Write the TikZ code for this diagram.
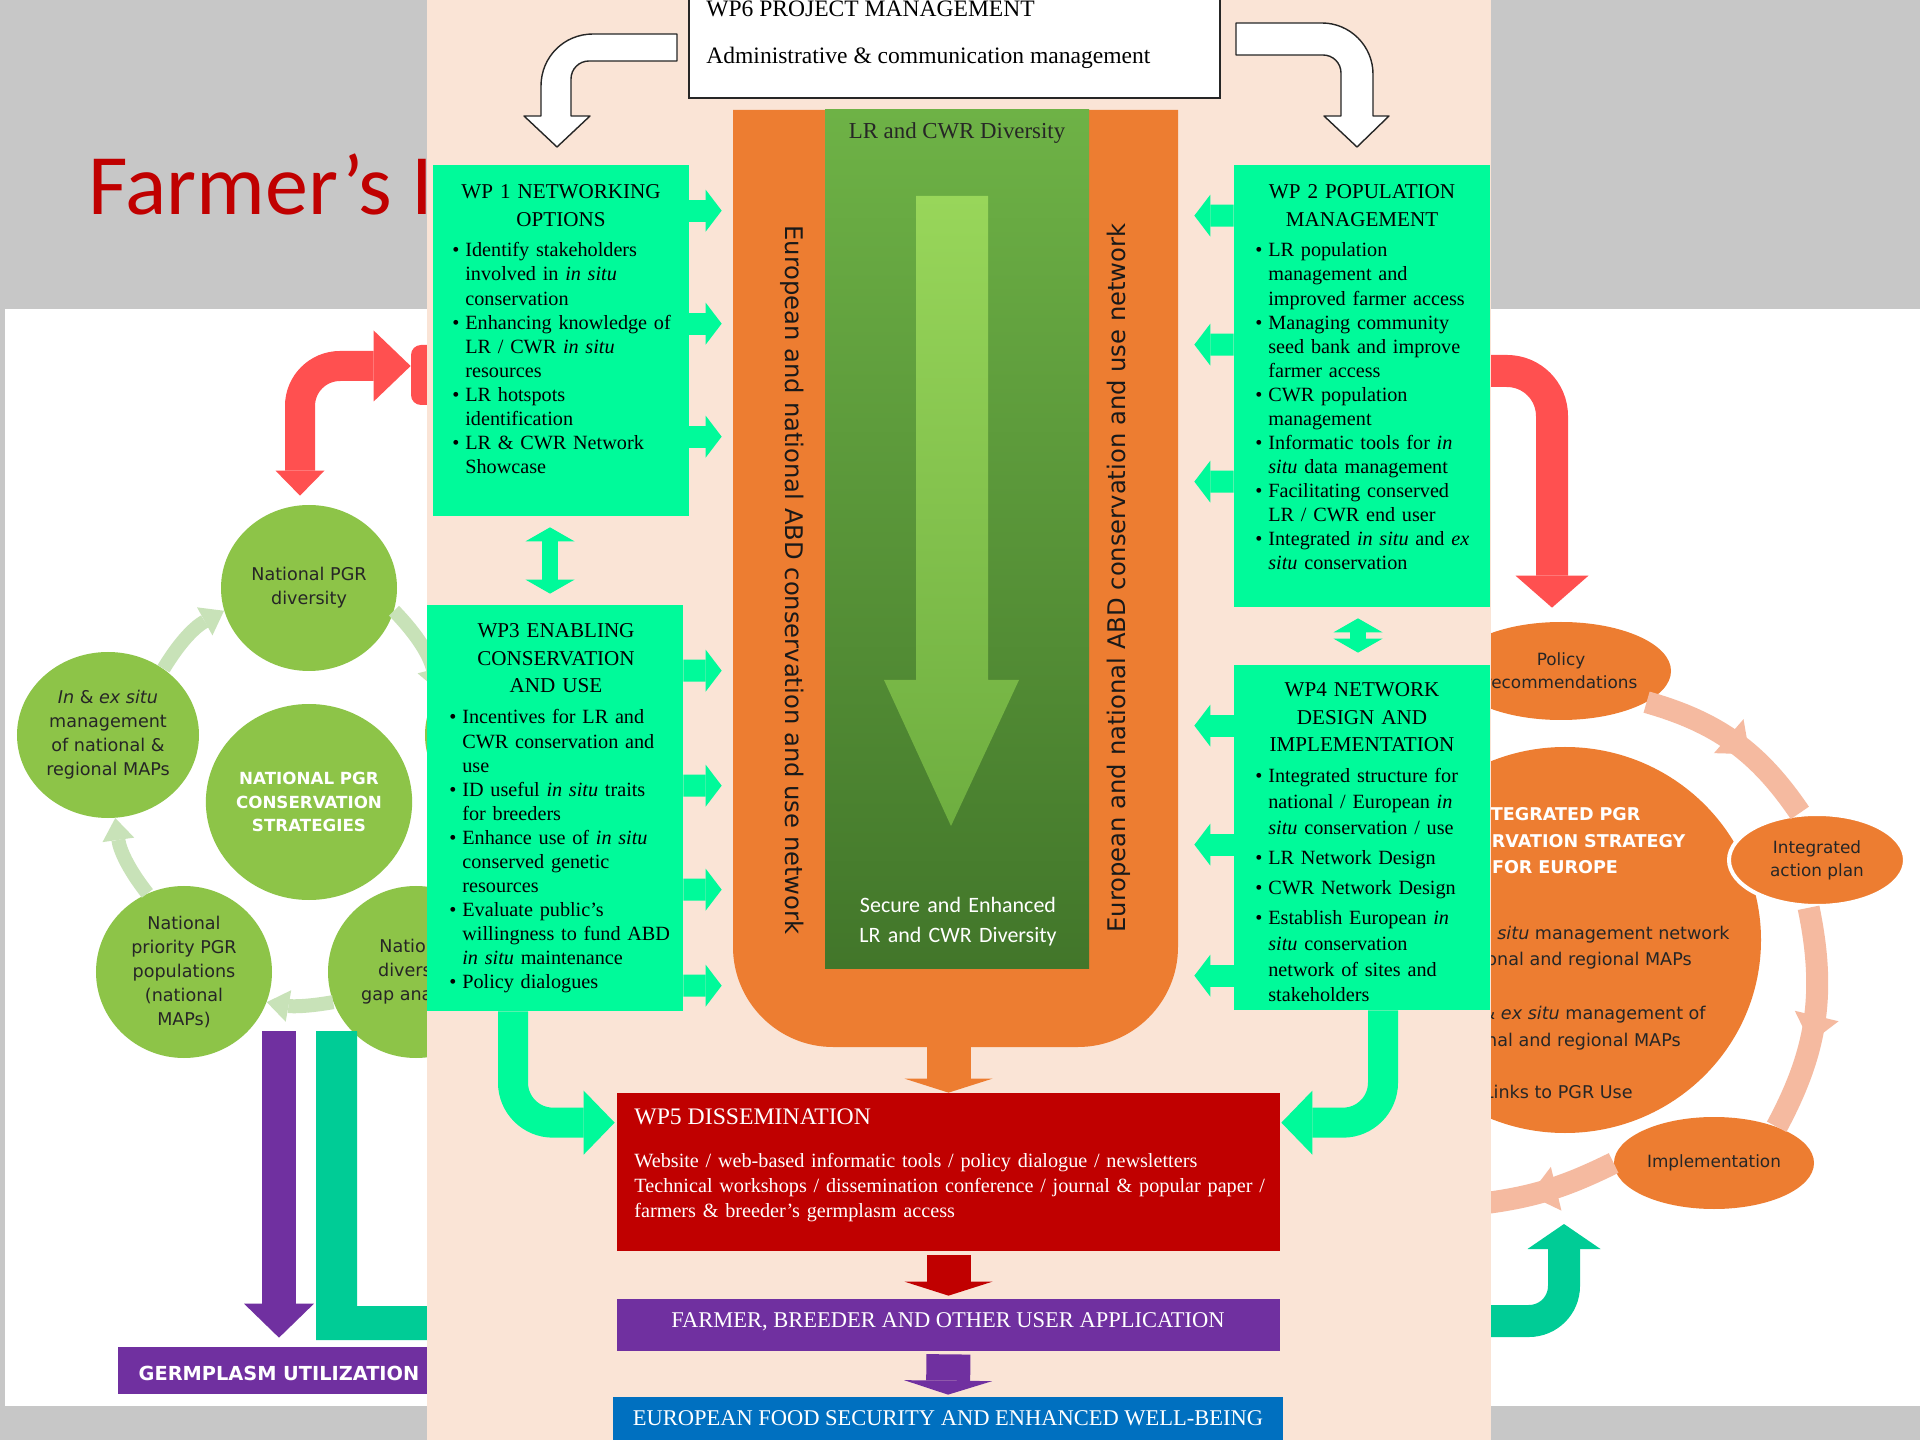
\documentclass[tikz,border=0pt]{standalone}
\usepackage{fontspec}
\setmainfont{Liberation Serif}
\newfontfamily\djsans{DejaVu Sans}
\newfontfamily\calsans{Carlito}
\usetikzlibrary{positioning}
\usetikzlibrary{calc}
\usetikzlibrary{arrows.meta}
\usetikzlibrary{fit}
\usetikzlibrary{shapes.geometric}
\usetikzlibrary{decorations.markings}
\definecolor{slidegray}{RGB}{199,199,199}
\definecolor{titlered}{RGB}{192,0,0}
\definecolor{peach}{RGB}{250,228,214}
\definecolor{wpgreen}{RGB}{0,250,154}
\definecolor{abdorange}{RGB}{237,125,49}
\definecolor{wpred}{RGB}{192,0,0}
\definecolor{wppurple}{RGB}{112,48,160}
\definecolor{wpblue}{RGB}{0,112,192}
\definecolor{colhi}{RGB}{110,178,70}
\definecolor{collo}{RGB}{66,118,42}
\definecolor{arrhi}{RGB}{152,214,90}
\definecolor{arrlo}{RGB}{110,174,64}
\definecolor{leafgreen}{RGB}{141,196,72}
\definecolor{paleleaf}{RGB}{200,226,184}
\definecolor{coral}{RGB}{255,80,80}
\definecolor{jade}{RGB}{0,204,150}
\definecolor{salmon}{RGB}{245,186,160}

\newcommand{\wpit}[1]{\hangindent=7.4pt\hangafter=1\noindent\makebox[7.4pt][l]{\textbullet}#1\par}

\tikzset{
  wpbox/.style={fill=wpgreen, inner sep=0pt},
  wptitle/.style={anchor=base, inner sep=0pt, text width=60mm, align=center, font=\fontsize{12}{15.4}\selectfont},
  wplist/.style={anchor=base west, inner sep=0pt, text width=60mm, align=left, font=\fontsize{11.5}{13.66}\selectfont},
  bartext/.style={anchor=base, inner sep=0pt, text=white, font=\fontsize{12.8}{15}\selectfont},
  sidearr/.style={draw=wpgreen, line width=4.4mm, -{Triangle[width=8.4mm,length=3.2mm,line width=0pt]}},
  linkarr/.style={draw=wpgreen, line width=3.2mm, {Triangle[width=9.8mm,length=2.8mm,line width=0pt]}-{Triangle[width=9.8mm,length=2.8mm,line width=0pt]}},
  bendarr/.style={draw=wpgreen, line width=6mm, rounded corners=8mm, -{Triangle[width=12.8mm,length=6.2mm,line width=0pt]}},
  dnarr/.style={line width=8.8mm, -{Triangle[width=17.6mm,length=2.8mm,line width=0pt]}},
  mgmtarr/.style={fill=white, draw=black!85, line width=0.8pt, line join=round},
  abdtext/.style={inner sep=0pt, text=black!90, font=\djsans\fontsize{13.8}{16}\selectfont},
  leafcirc/.style={ellipse, fill=leafgreen, inner sep=0pt, align=center, text=black!85, font=\djsans\fontsize{10}{13.6}\selectfont},
  palearr/.style={draw=paleleaf, line width=2.8mm, -{Triangle[width=6.4mm,length=4.4mm,line width=0pt]}},
  orangeell/.style={ellipse, fill=abdorange, inner sep=0pt, align=center, text=black!85, font=\djsans\fontsize{9.6}{13.2}\selectfont},
  ringarr/.style={draw=salmon, line width=4.4mm, postaction={decorate}, decoration={markings, mark=at position 0.6 with {\arrow[salmon]{Triangle[width=9mm,length=5.5mm,line width=0pt]}}}},
  coralarr/.style={draw=coral, line width=6mm, rounded corners=8mm, arrows={Triangle[width=9.8mm,length=5mm,line width=0pt]-Triangle[width=14.2mm,length=7.4mm,line width=0pt]}},
  coralarrR/.style={draw=coral, line width=6.4mm, rounded corners=9mm, -{Triangle[width=14.6mm,length=6.4mm,line width=0pt]}},
  jadearr/.style={draw=jade, line width=6.4mm, rounded corners=7mm, -{Triangle[width=14.6mm,length=5mm,line width=0pt]}},
  purparr/.style={draw=wppurple, line width=6.8mm, -{Triangle[width=14mm,length=6.8mm,line width=0pt]}},
  eurobody/.style={anchor=base east, inner sep=0pt, text=black!85, font=\djsans\fontsize{10}{13}\selectfont}
}

\begin{document}
\begin{tikzpicture}[x=0.2mm, y=-0.2mm]
  \useasboundingbox (0,0) rectangle (1920,1440);
  \fill[slidegray] (0,0) rectangle (1920,1440);
  \fill[white] (5,309) rectangle (1920,1406);

  \begin{scope}
    \clip (0,0) rectangle (427,1440);
    \node[anchor=base west, inner sep=0pt, text=titlered, font=\calsans\fontsize{49}{58}\selectfont] (slidetitle) at (88,215) {Farmer’s I};
    \node[fit={(411,345) (470,405)}, inner sep=0pt, fill=coral, rounded corners=2mm] (redblk) {};
    \node[leafcirc, minimum width=35.2mm, minimum height=33.2mm] (natdiv) at (309,588) {National PGR\\diversity};
    \node[leafcirc, minimum width=36.4mm, minimum height=33.2mm] (inex) at (108,735) {\textit{In} \& \textit{ex situ}\\management\\of national \&\\regional MAPs};
    \node[leafcirc, minimum width=41.2mm, minimum height=39.2mm, text=white, font=\djsans\bfseries\fontsize{9.5}{13.6}\selectfont] (strat) at (309,802) {NATIONAL PGR\\CONSERVATION\\STRATEGIES};
    \node[leafcirc, minimum width=35.2mm, minimum height=34.4mm] (prio) at (184,972) {National\\priority PGR\\populations\\(national\\MAPs)};
    \node[leafcirc, minimum width=35.2mm, minimum height=34.4mm] (gap) at (416,972) {National\\diversity\\gap analysis};
    \node[leafcirc, minimum width=36mm, minimum height=33.2mm] (natR) at (515,735) {};
    \draw[palearr] (inex.50) to[bend left=15] (natdiv.195);
    \draw[palearr] (natdiv.-15) to[bend left=15] (natR.150);
    \draw[palearr] (prio.115) to[bend left=15] (inex.-85);
    \draw[palearr] (gap.200) to[bend left=10] (prio.-20);
    \draw[coralarr] ($(natdiv.north)+(-9,-9)$) |- ($(redblk.west)+(0,-9)$);
    \fill[jade] (316,1031) -- (357,1031) -- (357,1306) -- (440,1306) -- (440,1340) -- (316,1340) -- cycle;
    \node[fit={(118,1347) (440,1394)}, inner sep=0pt, fill=wppurple] (germ) {};
    \node[anchor=base, inner sep=0pt, text=white, font=\djsans\bfseries\fontsize{11}{13}\selectfont] (germt) at (279,1380) {GERMPLASM UTILIZATION};
    \coordinate (purpTop) at (279,1031);
    \draw[purparr] (purpTop) -- ($(germ.north)+(0,-9)$);
  \end{scope}

  \begin{scope}
    \clip (1491,0) rectangle (1920,1440);
    \node[orangeell, minimum width=78.4mm, minimum height=77.2mm] (europe) at (1565,940) {};
    \node[orangeell, minimum width=44mm, minimum height=19.6mm] (policy) at (1561,671) {Policy\\recommendations};
    \node[orangeell, minimum width=35.2mm, minimum height=18.4mm, draw=white, line width=0.8mm] (integ) at (1817,860) {Integrated\\action plan};
    \node[orangeell, minimum width=40mm, minimum height=18.4mm] (implem) at (1714,1163) {Implementation};
    \coordinate (ringL) at (1470,1205);
    \draw[ringarr] (policy.-20) to[bend left=20] (integ.110);
    \draw[ringarr] (integ.-100) to[bend left=20] (implem.30);
    \draw[ringarr] (implem.180) to[bend left=10] (ringL);
    \node[anchor=base, inner sep=0pt, text width=70mm, align=center, text=white, font=\djsans\bfseries\fontsize{10}{15}\selectfont] (eurohead) at (1555,821) {INTEGRATED PGR\\CONSERVATION STRATEGY\\FOR EUROPE};
    \node[eurobody] (eurob1) at (1730,939) {\textit{In situ} management network};
    \node[eurobody] (eurob2) at (1692,965) {of national and regional MAPs};
    \node[eurobody] (eurob3) at (1706,1019) {\textit{In} \& \textit{ex situ} management of};
    \node[eurobody] (eurob4) at (1681,1046) {national and regional MAPs};
    \node[eurobody] (eurob5) at (1633,1098) {Links to PGR Use};
    \coordinate (coralR) at (1470,371);
    \draw[coralarrR] (coralR) -| ($(policy.north)+(-9,-14)$);
    \coordinate (jadeR) at (1470,1321);
    \coordinate (jadeTip) at (1564,1224);
    \draw[jadearr] (jadeR) -| (jadeTip);
  \end{scope}

  \fill[peach] (427,0) rectangle (1491,1440);

  \node[fit={(689,-5) (1220,98)}, inner sep=0pt, fill=white, draw=black!85, line width=0.9pt] (wp6) {};
  \node[anchor=base west, inner sep=0pt, font=\fontsize{13.4}{16}\selectfont] (wp6t) at (706,17) {WP6 PROJECT MANAGEMENT};
  \node[anchor=base west, inner sep=0pt, font=\fontsize{13.4}{16}\selectfont] (wp6s) at (706,64) {Administrative \& communication management};
  \draw[mgmtarr] (677,34) -- (593,34) .. controls (564,34) and (541,57) .. (541,86) -- (541,116) -- (524,116) -- (557,147) -- (590,116) -- (571,116) -- (571,79) .. controls (571,69) and (579,61) .. (589,61) -- (677,61) -- cycle;
  \draw[mgmtarr] (1236,23) -- (1322,23) .. controls (1350,23) and (1373,46) .. (1373,74) -- (1373,116) -- (1389,116) -- (1357,147) -- (1324,116) -- (1341,116) -- (1341,73) .. controls (1341,63) and (1333,55) .. (1323,55) -- (1236,55) -- cycle;

  \fill[abdorange] (733,110) -- (1178,110) -- (1178,947) .. controls (1178,1002) and (1133,1047) .. (1078,1047) -- (833,1047) .. controls (778,1047) and (733,1002) .. (733,947) -- cycle;
  \path node[fit={(733,110) (1178,1047)}, inner sep=0pt] (abd) {};
  \node[fit={(825,110) (1089,968)}, inner sep=0pt, top color=colhi, bottom color=collo] (col) {};
  \shade[top color=arrhi, bottom color=arrlo] (916,196) -- (988,196) -- (988,680) -- (1019,680) -- (951,826) -- (884,680) -- (916,680) -- cycle;
  \node[below=2.6mm of col.north, inner sep=0pt, text=black!85, font=\fontsize{13}{15}\selectfont] (lrtop) {LR and CWR Diversity};
  \node[anchor=base, inner sep=0pt, text width=50mm, align=center, text=white, font=\calsans\fontsize{12.5}{17.6}\selectfont] (secure) at (958,912) {Secure and Enhanced\\LR and CWR Diversity};
  \node[abdtext, rotate=-90] (abdL) at (792,580) {European and national ABD conservation and use network};
  \node[abdtext, rotate=90] (abdR) at (1119,578) {European and national ABD conservation and use network};

  \node[wpbox, fit={(433,165) (689,516)}] (wp1) {};
  \node[wpbox, fit={(427,605) (683,1011)}] (wp3) {};
  \node[wpbox, fit={(1234,165) (1490,607)}] (wp2) {};
  \node[wpbox, fit={(1234,665) (1490,1010)}] (wp4) {};

  \node[wptitle] (wp1t) at (561,199) {WP 1 NETWORKING\\OPTIONS};
  \node[wplist] (wp1l) at (452,257) {\wpit{Identify stakeholders\newline involved in \textit{in situ}\newline conservation}
    \wpit{Enhancing knowledge of\newline LR / CWR \textit{in situ}\newline resources}
    \wpit{LR hotspots\newline identification}
    \wpit{LR \& CWR Network\newline Showcase}};
  \node[wptitle] (wp3t) at (556,638) {WP3 ENABLING\\CONSERVATION\\AND USE};
  \node[wplist] (wp3l) at (449,724) {\wpit{Incentives for LR and\newline CWR conservation and\newline use}
    \wpit{ID useful \textit{in situ} traits\newline for breeders}
    \wpit{Enhance use of \textit{in situ}\newline conserved genetic\newline resources}
    \wpit{Evaluate public’s\newline willingness to fund ABD\newline \textit{in situ} maintenance}
    \wpit{Policy dialogues}};
  \node[wptitle] (wp2t) at (1362,199) {WP 2 POPULATION\\MANAGEMENT};
  \node[wplist] (wp2l) at (1255,257) {\wpit{LR population\newline management and\newline improved farmer access}
    \wpit{Managing community\newline seed bank and improve\newline farmer access}
    \wpit{CWR population\newline management}
    \wpit{Informatic tools for \textit{in}\newline \textit{situ} data management}
    \wpit{Facilitating conserved\newline LR / CWR end user}
    \wpit{Integrated \textit{in situ} and \textit{ex}\newline \textit{situ} conservation}};
  \node[wptitle] (wp4t) at (1362,697) {WP4 NETWORK\\DESIGN AND\\IMPLEMENTATION};
  \node[wplist, font=\fontsize{11.5}{14.6}\selectfont, execute at begin node={\setlength{\parskip}{2.6pt}}] (wp4l) at (1255,783) {\wpit{Integrated structure for\newline national / European \textit{in}\newline \textit{situ} conservation / use}
    \wpit{LR Network Design}
    \wpit{CWR Network Design}
    \wpit{Establish European \textit{in}\newline \textit{situ} conservation\newline network of sites and\newline stakeholders}};

  \foreach \dy in {46,159,272}
    \draw[sidearr] ($(wp1.north east)+(0,\dy)$) -- ($(abd.north west)+(-11,\dy+55)$);
  \foreach \dy in {66,181,285,381}
    \draw[sidearr] ($(wp3.north east)+(0,\dy)$) -- ($(abd.north west)+(-11,\dy+495)$);
  \foreach \dy in {51,180,317}
    \draw[sidearr] ($(wp2.north west)+(0,\dy)$) -- ($(abd.north east)+(16,\dy+55)$);
  \foreach \dy in {61,180,311}
    \draw[sidearr] ($(wp4.north west)+(0,\dy)$) -- ($(abd.north east)+(16,\dy+555)$);
  \draw[linkarr] ($(wp1.south)+(-11,11)$) -- ($(wp3.north)+(-5,-11)$);
  \draw[linkarr] ($(wp2.south)+(-4,11)$) -- ($(wp4.north)+(-4,-12)$);

  \node[fit={(617,1093) (1280,1251)}, inner sep=0pt, fill=wpred] (wp5) {};
  \node[anchor=base west, inner sep=0pt, text=white, font=\fontsize{13.5}{16}\selectfont] (wp5t) at (634,1124) {WP5 DISSEMINATION};
  \node[anchor=base west, inner sep=0pt, text width=130mm, align=left, text=white, font=\fontsize{11.5}{14.5}\selectfont] (wp5l) at (634,1167) {Website / web-based informatic tools / policy dialogue / newsletters\\Technical workshops / dissemination conference / journal \& popular paper /\\farmers \& breeder’s germplasm access};
  \node[fit={(617,1299) (1280,1351)}, inner sep=0pt, fill=wppurple] (user) {};
  \node[bartext] (usert) at (948,1327) {FARMER, BREEDER AND OTHER USER APPLICATION};
  \node[fit={(613,1397) (1283,1445)}, inner sep=0pt, fill=wpblue] (food) {};
  \node[bartext] (foodt) at (948,1425) {EUROPEAN FOOD SECURITY AND ENHANCED WELL-BEING};

  \draw[bendarr] ($(wp3.south)+(-42,0)$) |- ($(wp5.north west)+(-2,30)$);
  \draw[bendarr] ($(wp4.south)+(21,0)$) |- ($(wp5.north east)+(1,30)$);
  \draw[dnarr, abdorange] ($(abd.south -| wp5.north)+(0,-8)$) -- (wp5.north);
  \draw[dnarr, wpred, shorten <=0.8mm, shorten >=0.6mm] (wp5.south) -- (user.north);
  \draw[dnarr, wppurple, shorten <=0.6mm, shorten >=0.4mm] (user.south) -- (food.north);
\end{tikzpicture}
\end{document}
